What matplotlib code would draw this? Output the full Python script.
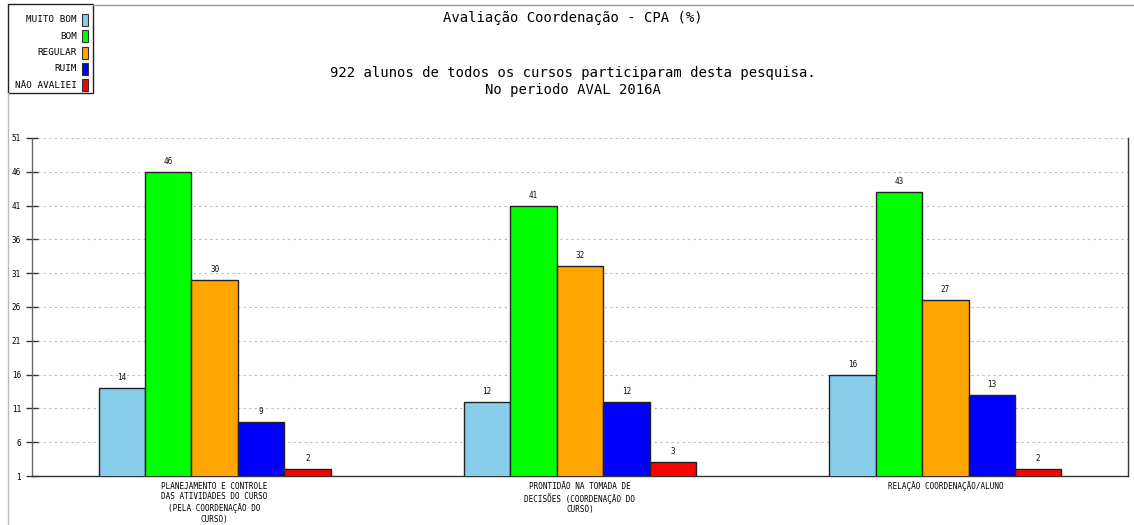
import matplotlib
matplotlib.use('Agg')
from matplotlib import pyplot as plt
import matplotlib.patches as mpatches
from matplotlib.lines import Line2D
import numpy as np

categories = [
    'PLANEJAMENTO E CONTROLE\nDAS ATIVIDADES DO CURSO\n(PELA COORDENAÇÃO DO\nCURSO)',
    'PRONTIDÃO NA TOMADA DE\nDECISÕES (COORDENAÇÃO DO\nCURSO)',
    'RELAÇÃO COORDENAÇÃO/ALUNO',
]
series_names = ['MUITO BOM', 'BOM', 'REGULAR', 'RUIM', 'NÃO AVALIEI']
muito_bom = [14, 12, 16]
bom = [46, 41, 43]
regular = [30, 32, 27]
ruim = [9, 12, 13]
nao_avaliei = [2, 3, 2]
series_values = [muito_bom, bom, regular, ruim, nao_avaliei]
colors = ['#87ceeb', '#00ff00', '#ffa500', '#0000ff', '#ff0000']
yticks = list(range(1, 52, 5))

W, H = 1134, 525
fig = plt.figure(figsize=(W / 100, H / 100), dpi=100)
mono = 'DejaVu Sans Mono'


def px(x, y):
    # pixel position (from top-left) -> figure fraction
    return x / W, 1 - y / H


ax = fig.add_axes([32 / W, 1 - 476 / H, (1128 - 32) / W, (476 - 138) / H])

n = len(series_names)
width = 0.127
x = np.arange(len(categories)) + 0.5
for i, (vals, col) in enumerate(zip(series_values, colors)):
    pos = x + (i - (n - 1) / 2) * width
    ax.bar(pos, vals, width=width, color=col, edgecolor='#222222',
           linewidth=1.0, zorder=3)
    for p, v in zip(pos, vals):
        ax.text(p, v + 0.9, str(v), ha='center', va='bottom',
                fontsize=5.5, family=mono, color='#111111')

ax.set_xlim(0, len(categories))
ax.set_ylim(1, 51)
ax.set_yticks(yticks)
ax.set_yticklabels([str(t) for t in yticks], fontsize=5.5, family=mono)
ax.tick_params(axis='y', direction='inout', length=8, width=1,
               color='#333333', pad=4)
ax.set_xticks(x)
ax.set_xticklabels(categories, fontsize=5.5, family=mono, va='top',
                   linespacing=1.25)
ax.tick_params(axis='x', length=0, pad=4)
ax.grid(axis='y', linestyle=(0, (2, 3)), color='#bbbbbb', linewidth=0.8,
        zorder=0)
ax.spines['top'].set_visible(False)
for s in ['left', 'bottom', 'right']:
    ax.spines[s].set_color('#333333')
    ax.spines[s].set_linewidth(1.0)
ax.spines['left'].set_color('#666666')

# titles
fig.text(*px(573, 18), 'Avaliação Coordenação - CPA (%)', ha='center',
         va='center', fontsize=10, family=mono)
fig.text(*px(573, 73), '922 alunos de todos os cursos participaram desta pesquisa.',
         ha='center', va='center', fontsize=10, family=mono)
fig.text(*px(573, 90), 'No periodo AVAL 2016A', ha='center', va='center',
         fontsize=10, family=mono)

# frame lines around the chart area
fig.add_artist(Line2D([93 / W, 1], [1 - 5 / H] * 2, color='#999999', lw=1,
                      transform=fig.transFigure))
fig.add_artist(Line2D([8 / W] * 2, [0, 1 - 93 / H], color='#bbbbbb', lw=1,
                      transform=fig.transFigure))

# legend box
x0, y0 = px(8, 93)
x1, y1 = px(93, 4)
fig.add_artist(mpatches.Rectangle((x0, y0), x1 - x0, y1 - y0, fill=False,
                                  edgecolor='#222222', lw=1,
                                  transform=fig.transFigure))
for k, (name, col) in enumerate(zip(series_names, colors)):
    yc = 20 + k * 16.3
    fig.text(*px(77, yc), name, ha='right', va='center', fontsize=6.7,
             family=mono)
    sx, sy = px(82, yc + 6)
    fig.add_artist(mpatches.Rectangle((sx, sy), 6 / W, 12 / H,
                                      facecolor=col, edgecolor='#333333',
                                      lw=0.8, transform=fig.transFigure))

fig.savefig('out.png', dpi=100)
